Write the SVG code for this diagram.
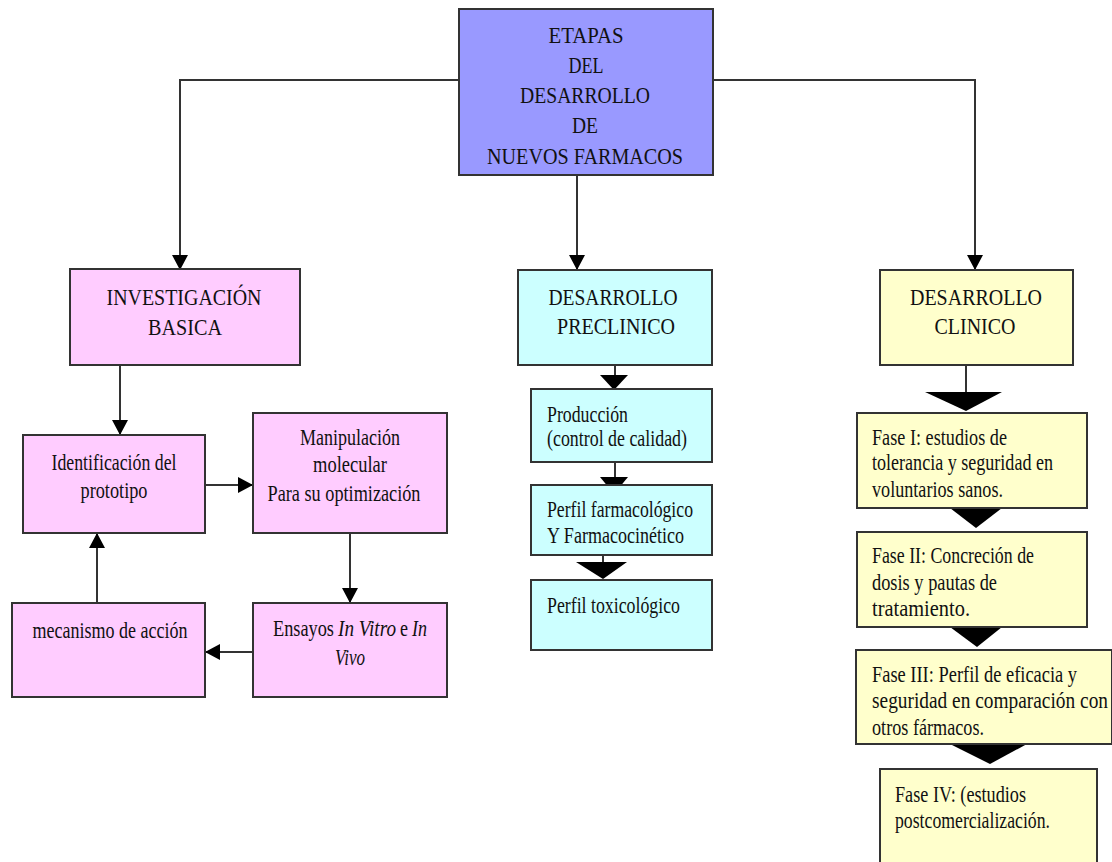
<svg xmlns="http://www.w3.org/2000/svg" width="1112" height="862" viewBox="0 0 1112 862">
<style>
.box{stroke:#333;stroke-width:2}
.top{fill:#9999ff}
.pink{fill:#ffccff}
.cyan{fill:#ccffff}
.yel{fill:#ffffcc}
.t{font-family:"Liberation Serif","Times New Roman",serif;font-size:23px;fill:#111}
.c{text-anchor:middle}
.i{font-style:italic}
.ln{fill:none;stroke:#333;stroke-width:2}
.tri{fill:#000}
</style>
<defs>
<marker id="ah" markerUnits="userSpaceOnUse" markerWidth="16" markerHeight="16" refX="15" refY="8" orient="auto" viewBox="0 0 16 16">
<path d="M0,0 L15,8 L0,16 z" fill="#000"/>
</marker>
</defs>
<g id="connectors">
<polyline class="ln" points="459,80 180,80 180,270" marker-end="url(#ah)"/>
<polyline class="ln" points="713,80 975,80 975,270" marker-end="url(#ah)"/>
<line class="ln" x1="577" y1="175" x2="577" y2="270" marker-end="url(#ah)"/>
<line class="ln" x1="120" y1="365" x2="120" y2="435" marker-end="url(#ah)"/>
<line class="ln" x1="205" y1="485" x2="253" y2="485" marker-end="url(#ah)"/>
<line class="ln" x1="350" y1="533" x2="350" y2="603" marker-end="url(#ah)"/>
<line class="ln" x1="253" y1="652" x2="205" y2="652" marker-end="url(#ah)"/>
<line class="ln" x1="97" y1="603" x2="97" y2="533" marker-end="url(#ah)"/>
<line class="ln" x1="615" y1="365" x2="615" y2="378"/>
<polygon class="tri" points="600,375 628,375 614,390"/>
<line class="ln" x1="615" y1="462" x2="615" y2="478"/>
<polygon class="tri" points="600,477 628,477 614,494"/>
<line class="ln" x1="603" y1="555" x2="603" y2="563"/>
<polygon class="tri" points="576,562 627,562 603,579"/>
<line class="ln" x1="966" y1="365" x2="966" y2="393"/>
<polygon class="tri" points="925,392 1002,392 966,411"/>
<polygon class="tri" points="950,508 1002,508 976,528"/>
<polygon class="tri" points="950,627 1002,627 977,647"/>
<polygon class="tri" points="950,744 1027,744 990,764"/>
</g>
<g id="etapas">
<rect class="box top" x="459" y="9" width="254" height="166"/>
<text class="t c" x="586" y="43" textLength="75" lengthAdjust="spacingAndGlyphs">ETAPAS</text>
<text class="t c" x="586" y="73" textLength="35" lengthAdjust="spacingAndGlyphs">DEL</text>
<text class="t c" x="585" y="103" textLength="130" lengthAdjust="spacingAndGlyphs">DESARROLLO</text>
<text class="t c" x="585" y="133" textLength="26" lengthAdjust="spacingAndGlyphs">DE</text>
<text class="t c" x="585" y="164" textLength="196" lengthAdjust="spacingAndGlyphs">NUEVOS FARMACOS</text>
</g>
<g id="investigacion">
<rect class="box pink" x="70" y="269" width="230" height="96"/>
<text class="t c" x="184" y="305" textLength="155" lengthAdjust="spacingAndGlyphs">INVESTIGACIÓN</text>
<text class="t c" x="185" y="335" textLength="74" lengthAdjust="spacingAndGlyphs">BASICA</text>
</g>
<g id="identificacion">
<rect class="box pink" x="23" y="435" width="182" height="98"/>
<text class="t c" x="114" y="470" textLength="125" lengthAdjust="spacingAndGlyphs">Identificación del</text>
<text class="t c" x="114" y="498" textLength="67" lengthAdjust="spacingAndGlyphs">prototipo</text>
</g>
<g id="manipulacion">
<rect class="box pink" x="253" y="413" width="194" height="120"/>
<text class="t c" x="350" y="445" textLength="100" lengthAdjust="spacingAndGlyphs">Manipulación</text>
<text class="t c" x="350" y="472" textLength="74" lengthAdjust="spacingAndGlyphs">molecular</text>
<text class="t c" x="344" y="501" textLength="153" lengthAdjust="spacingAndGlyphs">Para su optimización</text>
</g>
<g id="ensayos">
<rect class="box pink" x="253" y="603" width="194" height="94"/>
<text class="t" x="273" y="636" textLength="61" lengthAdjust="spacingAndGlyphs">Ensayos</text>
<text class="t i" x="338" y="636" textLength="58" lengthAdjust="spacingAndGlyphs">In Vitro</text>
<text class="t" x="400" y="636" textLength="8" lengthAdjust="spacingAndGlyphs">e</text>
<text class="t i" x="412" y="636" textLength="15" lengthAdjust="spacingAndGlyphs">In</text>
<text class="t c i" x="350" y="665" textLength="30" lengthAdjust="spacingAndGlyphs">Vivo</text>
</g>
<g id="mecanismo">
<rect class="box pink" x="12" y="603" width="193" height="94"/>
<text class="t c" x="110" y="638" textLength="155" lengthAdjust="spacingAndGlyphs">mecanismo de acción</text>
</g>
<g id="preclinico">
<rect class="box cyan" x="518" y="270" width="194" height="95"/>
<text class="t c" x="613" y="305" textLength="129" lengthAdjust="spacingAndGlyphs">DESARROLLO</text>
<text class="t c" x="616" y="334" textLength="118" lengthAdjust="spacingAndGlyphs">PRECLINICO</text>
</g>
<g id="produccion">
<rect class="box cyan" x="531" y="389" width="181" height="73"/>
<text class="t" x="547" y="422" textLength="81" lengthAdjust="spacingAndGlyphs">Producción</text>
<text class="t" x="547" y="446" textLength="140" lengthAdjust="spacingAndGlyphs">(control de calidad)</text>
</g>
<g id="farmacologico">
<rect class="box cyan" x="531" y="485" width="181" height="70"/>
<text class="t" x="547" y="517" textLength="146" lengthAdjust="spacingAndGlyphs">Perfil farmacológico</text>
<text class="t" x="547" y="543" textLength="137" lengthAdjust="spacingAndGlyphs">Y Farmacocinético</text>
</g>
<g id="toxicologico">
<rect class="box cyan" x="531" y="580" width="181" height="70"/>
<text class="t" x="547" y="613" textLength="133" lengthAdjust="spacingAndGlyphs">Perfil toxicológico</text>
</g>
<g id="clinico">
<rect class="box yel" x="880" y="270" width="193" height="95"/>
<text class="t c" x="976" y="305" textLength="132" lengthAdjust="spacingAndGlyphs">DESARROLLO</text>
<text class="t c" x="975" y="334" textLength="81" lengthAdjust="spacingAndGlyphs">CLINICO</text>
</g>
<g id="fase1">
<rect class="box yel" x="857" y="413" width="230" height="95"/>
<text class="t" x="872" y="445" textLength="135" lengthAdjust="spacingAndGlyphs">Fase I: estudios de</text>
<text class="t" x="872" y="470" textLength="181" lengthAdjust="spacingAndGlyphs">tolerancia y seguridad en</text>
<text class="t" x="872" y="497" textLength="131" lengthAdjust="spacingAndGlyphs">voluntarios sanos.</text>
</g>
<g id="fase2">
<rect class="box yel" x="857" y="532" width="230" height="95"/>
<text class="t" x="872" y="563" textLength="162" lengthAdjust="spacingAndGlyphs">Fase II: Concreción de</text>
<text class="t" x="872" y="590" textLength="125" lengthAdjust="spacingAndGlyphs">dosis y pautas de</text>
<text class="t" x="872" y="616" textLength="98" lengthAdjust="spacingAndGlyphs">tratamiento.</text>
</g>
<g id="fase3">
<rect class="box yel" x="856" y="650" width="256" height="94"/>
<text class="t" x="872" y="682" textLength="205" lengthAdjust="spacingAndGlyphs">Fase III: Perfil de eficacia y</text>
<text class="t" x="872" y="708" textLength="236" lengthAdjust="spacingAndGlyphs">seguridad en comparación con</text>
<text class="t" x="872" y="735" textLength="112" lengthAdjust="spacingAndGlyphs">otros fármacos.</text>
</g>
<g id="fase4">
<rect class="box yel" x="880" y="769" width="217" height="110"/>
<text class="t" x="895" y="802" textLength="131" lengthAdjust="spacingAndGlyphs">Fase IV: (estudios</text>
<text class="t" x="895" y="828" textLength="155" lengthAdjust="spacingAndGlyphs">postcomercialización.</text>
</g>
</svg>
